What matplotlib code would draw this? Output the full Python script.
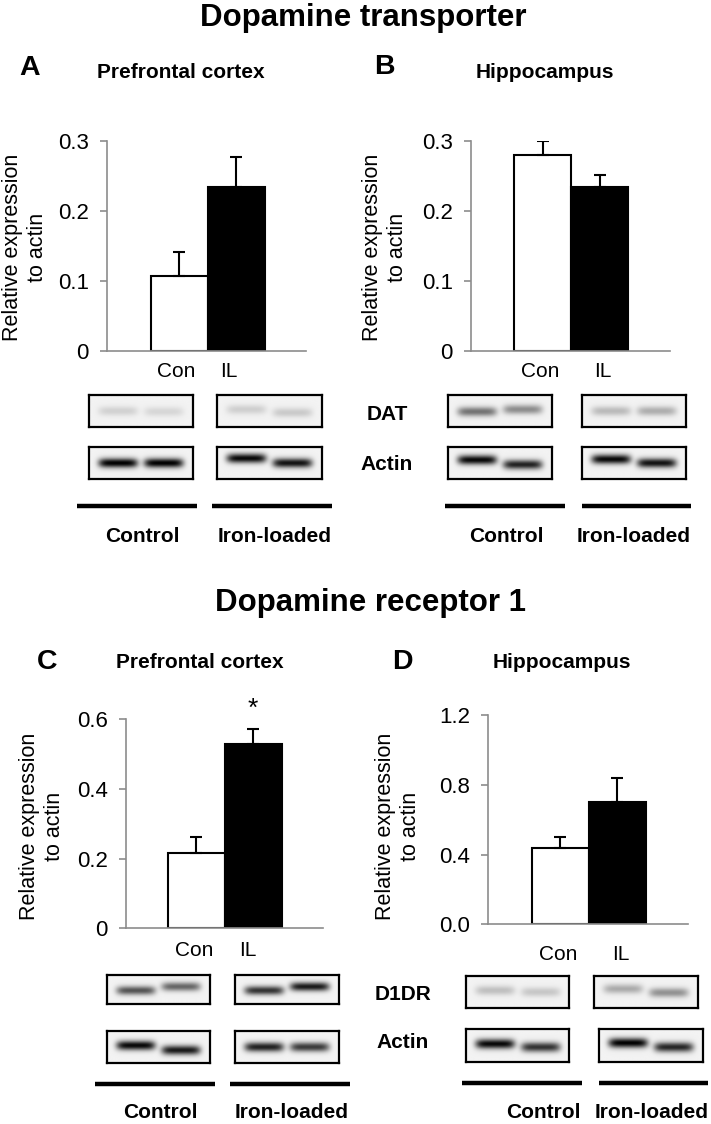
import numpy as np
import matplotlib
matplotlib.use("Agg")
from matplotlib import pyplot as plt
from matplotlib.lines import Line2D

plt.rcParams['font.family'] = ['Liberation Sans', 'DejaVu Sans']

W, H = 711, 1124

# bar data: (control, iron-loaded) means and upper errors
groups = ['Con', 'IL']
dat_pfc = [0.107, 0.234]
dat_pfc_err = [0.034, 0.042]
dat_hip = [0.279, 0.234]
dat_hip_err = [0.021, 0.017]
d1_pfc = [0.215, 0.527]
d1_pfc_err = [0.048, 0.043]
d1_hip = [0.436, 0.703]
d1_hip_err = [0.066, 0.137]

ticks_03 = [0, 0.1, 0.2, 0.3]
ticks_06 = [0, 0.2, 0.4, 0.6]
ticks_12 = [0.0, 0.4, 0.8, 1.2]
labels_03 = ['0', '0.1', '0.2', '0.3']
labels_06 = ['0', '0.2', '0.4', '0.6']
labels_12 = ['0.0', '0.4', '0.8', '1.2']

# blot bands: (lane x centre, band y centre, darkness) per box
blot_a_dat = [[(0.28, 0.5, 0.13), (0.72, 0.52, 0.11)], [(0.28, 0.45, 0.14), (0.72, 0.55, 0.16)]]
blot_a_act = [[(0.28, 0.5, 0.95), (0.72, 0.5, 0.95)], [(0.28, 0.35, 0.92), (0.72, 0.5, 0.88)]]
blot_b_dat = [[(0.28, 0.52, 0.5), (0.72, 0.45, 0.4)], [(0.28, 0.5, 0.22), (0.72, 0.5, 0.27)]]
blot_b_act = [[(0.28, 0.4, 0.92), (0.72, 0.55, 0.82)], [(0.28, 0.38, 0.92), (0.72, 0.5, 0.88)]]
blot_c_d1 = [[(0.28, 0.55, 0.62), (0.72, 0.42, 0.55)], [(0.28, 0.55, 0.75), (0.72, 0.42, 0.85)]]
blot_c_act = [[(0.28, 0.45, 0.92), (0.72, 0.6, 0.85)], [(0.28, 0.5, 0.82), (0.72, 0.5, 0.72)]]
blot_d_d1 = [[(0.28, 0.45, 0.2), (0.72, 0.5, 0.17)], [(0.28, 0.4, 0.28), (0.72, 0.52, 0.38)]]
blot_d_act = [[(0.28, 0.45, 0.92), (0.72, 0.55, 0.75)], [(0.28, 0.42, 0.95), (0.72, 0.55, 0.8)]]

fig = plt.figure(figsize=(W / 100, H / 100), dpi=100)


def fx(x):
    return x / W


def fy(y):
    return 1 - y / H


def add_ax(x0, y0, x1, y1):
    return fig.add_axes([fx(x0), fy(y1), (x1 - x0) / W, (y1 - y0) / H])


def txt(x, y, s, size=15, bold=False, **kw):
    fig.text(fx(x), fy(y), s, fontsize=size, fontweight='bold' if bold else 'normal',
             ha=kw.pop('ha', 'center'), va=kw.pop('va', 'center'), **kw)


def bar_panel(box, bars_px, vals, errs, ticks, labels, top):
    L, T, R, B = box
    ax = add_ax(L, T, R, B)
    ax.bar([0, 1], vals, width=1, color=['white', 'black'], edgecolor='black', linewidth=1.5, zorder=2)
    ax.errorbar([0, 1], vals, yerr=[[0, 0], errs], fmt='none', ecolor='black',
                elinewidth=1.5, capsize=4, capthick=1.5, zorder=3)
    b0, b2 = bars_px
    k = 2 / (b2 - b0)
    ax.set_xlim(-0.5 - (b0 - L) * k, 1.5 + (R - b2) * k)
    ax.set_ylim(0, top)
    ax.set_yticks(ticks)
    ax.set_yticklabels(labels)
    ax.set_xticks([])
    for s in ['top', 'right']:
        ax.spines[s].set_visible(False)
    for s in ['left', 'bottom']:
        ax.spines[s].set_color('#8c8c8c')
        ax.spines[s].set_linewidth(1.2)
    ax.tick_params(axis='y', direction='out', length=5, width=1.2, color='#8c8c8c',
                   labelsize=16, pad=8)
    ax.patch.set_alpha(0)
    return ax


def blot(x0, y0, x1, y1, bands):
    ax = add_ax(x0, y0, x1, y1)
    ny, nx = 60, 200
    yy, xx = np.mgrid[0:1:ny * 1j, 0:1:nx * 1j]
    img = np.full((ny, nx), 0.05)
    for xc, yc, d in bands:
        img += d * np.exp(-((xx - xc) / 0.19) ** 6) * np.exp(-((yy - yc) / 0.15) ** 2)
    ax.imshow(np.clip(img, 0, 1), cmap='gray_r', vmin=0, vmax=1, aspect='auto',
              interpolation='bilinear', extent=[0, 1, 1, 0])
    ax.set_xticks([])
    ax.set_yticks([])
    for s in ax.spines.values():
        s.set_linewidth(1.6)
        s.set_color('black')


def hline(x0, x1, y):
    fig.add_artist(Line2D([fx(x0), fx(x1)], [fy(y), fy(y)], color='black', linewidth=3.2,
                          solid_capstyle='butt'))


ylab = 'Relative expression\nto actin'

# titles
txt(363, 18, 'Dopamine transporter', size=22.5, bold=True)
txt(370, 603, 'Dopamine receptor 1', size=22.5, bold=True)

# panel A
txt(30, 68, 'A', size=20.5, bold=True)
txt(181, 73, 'Prefrontal cortex', size=15, bold=True)
bar_panel((107, 140.7, 306, 350.7), (150.7, 265), dat_pfc, dat_pfc_err, ticks_03, labels_03, 0.3)
txt(25, 247, ylab, size=15.5, rotation=90, multialignment='center')
txt(176, 372, groups[0]); txt(229, 372, groups[1])
blot(89, 395, 193, 427, blot_a_dat[0]); blot(217, 395, 322, 427, blot_a_dat[1])
blot(89, 447, 193, 479, blot_a_act[0]); blot(217, 447, 322, 479, blot_a_act[1])
hline(77, 197, 506); hline(212, 332, 506)
txt(142.5, 536, 'Control', bold=True); txt(275, 536, 'Iron-loaded', bold=True)

# panel B
txt(384, 67, 'B', size=20.5, bold=True)
txt(545, 73, 'Hippocampus', size=15, bold=True)
bar_panel((471, 140.7, 670, 350.7), (514, 628), dat_hip, dat_hip_err, ticks_03, labels_03, 0.3)
txt(385, 247, ylab, size=15.5, rotation=90, multialignment='center')
txt(540, 372, groups[0]); txt(603, 372, groups[1])
blot(448, 395, 552, 427, blot_b_dat[0]); blot(582, 395, 686, 427, blot_b_dat[1])
blot(448, 447, 552, 479, blot_b_act[0]); blot(582, 447, 686, 479, blot_b_act[1])
txt(387, 414, 'DAT', bold=True); txt(387, 465, 'Actin', bold=True)
hline(445, 565, 506); hline(582, 691, 506)
txt(506, 536, 'Control', bold=True); txt(634, 536, 'Iron-loaded', bold=True)

# panel C
txt(47, 662, 'C', size=20.5, bold=True)
txt(200, 663, 'Prefrontal cortex', size=15, bold=True)
bar_panel((126, 719, 323, 928.3), (167.7, 282), d1_pfc, d1_pfc_err, ticks_06, labels_06, 0.6)
txt(42, 826, ylab, size=15.5, rotation=90, multialignment='center')
txt(253, 709, '*', size=19)
txt(194, 951, groups[0]); txt(248, 951, groups[1])
blot(107, 975, 210, 1004, blot_c_d1[0]); blot(235, 975, 339, 1004, blot_c_d1[1])
blot(107, 1031, 210, 1063, blot_c_act[0]); blot(235, 1031, 339, 1063, blot_c_act[1])
hline(95, 215, 1084); hline(230, 350, 1084)
txt(160, 1113, 'Control', bold=True); txt(292, 1113, 'Iron-loaded', bold=True)

# panel D
txt(402, 662, 'D', size=20.5, bold=True)
txt(562, 663, 'Hippocampus', size=15, bold=True)
bar_panel((488, 715, 688, 924.3), (531.7, 646), d1_hip, d1_hip_err, ticks_12, labels_12, 1.2)
txt(398, 826, ylab, size=15.5, rotation=90, multialignment='center')
txt(558, 954, groups[0]); txt(621, 954, groups[1])
blot(466, 976, 569, 1008, blot_d_d1[0]); blot(594, 976, 698, 1008, blot_d_d1[1])
blot(466, 1029, 569, 1062, blot_d_act[0]); blot(599, 1029, 703, 1062, blot_d_act[1])
txt(403, 994, 'D1DR', bold=True); txt(403, 1043, 'Actin', bold=True)
hline(462, 582, 1083); hline(599, 708, 1083)
txt(543, 1113, 'Control', bold=True); txt(652, 1113, 'Iron-loaded', bold=True)

fig.savefig('out.png', dpi=100)
